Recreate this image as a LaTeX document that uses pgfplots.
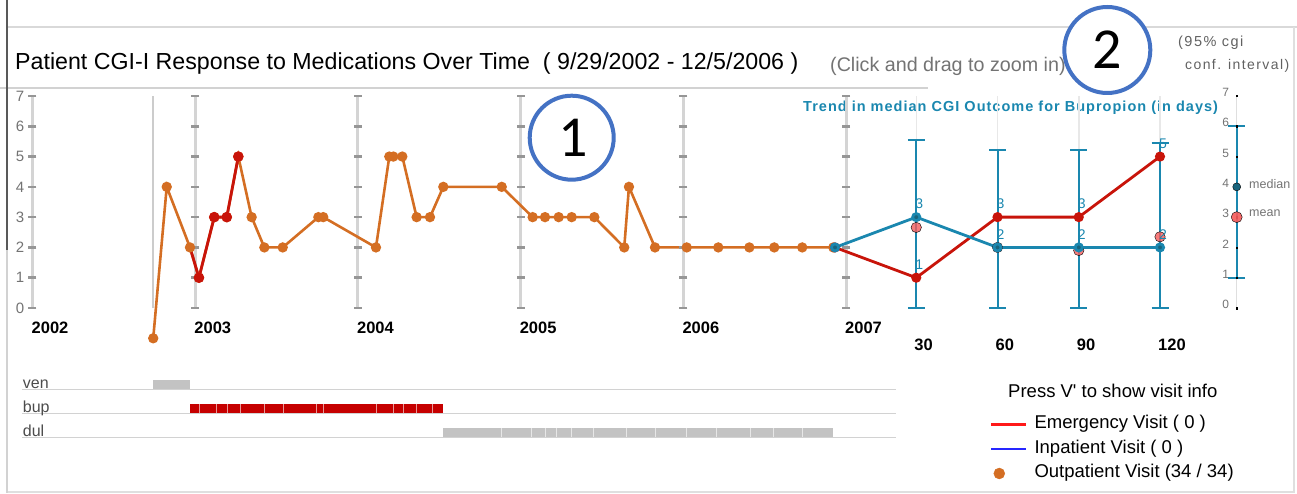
\documentclass[border=0pt]{standalone}
\usepackage{pgfplots}
\pgfplotsset{compat=1.18}
\usepackage{pgfplotstable}
\usepackage{fontspec}
\setmainfont{Liberation Sans}
\newfontfamily\calibri{Carlito}
\newfontfamily\spacedfont[LetterSpace=10]{Liberation Sans}
\newfontfamily\trendfont[LetterSpace=7]{Liberation Sans}
\newcommand\fs[1]{\fontsize{#1}{#1}\selectfont}
\definecolor{cgiorange}{RGB}{212,110,35}
\definecolor{cgired}{RGB}{200,20,10}
\definecolor{cgiteal}{RGB}{26,135,175}
\definecolor{cgidteal}{RGB}{25,100,125}
\definecolor{cgipink}{RGB}{245,90,90}
\definecolor{gridgray}{RGB}{212,212,212}
\definecolor{dashgray}{RGB}{150,150,150}
\definecolor{circblue}{RGB}{68,114,196}
\definecolor{bupred}{RGB}{198,0,0}
\definecolor{bargray}{RGB}{195,195,195}
\definecolor{txtgray}{RGB}{115,115,115}

\pgfplotstableread{
x y
2002.742 -1
2002.825 4
2002.968 2
2003.023 1
2003.117 3
2003.194 3
2003.265 5
2003.347 3
2003.425 2
2003.538 2
2003.757 3
2003.787 3
2004.111 2
2004.193 5
2004.218 5
2004.273 5
2004.361 3
2004.443 3
2004.525 4
2004.884 4
2005.074 3
2005.150 3
2005.234 3
2005.314 3
2005.453 3
2005.637 2
2005.666 4
2005.826 2
2006.021 2
2006.215 2
2006.406 2
2006.559 2
2006.731 2
2006.922 2
}\visits

\begin{document}
\begin{tikzpicture}
\useasboundingbox (0pt,0pt) rectangle (1297pt,493pt);

% frame
\draw[gray!30, line width=1.5pt] (7pt,466pt) -- (1297pt,466pt);
\draw[gray!25, line width=1.5pt] (1294pt,466pt) -- (1294pt,0pt);
\draw[gray!25, line width=1.5pt] (7pt,1pt) -- (1294pt,1pt);
\draw[gray!35, line width=1.5pt] (0pt,405pt) -- (928pt,405pt);
\draw[black!65, line width=1.5pt] (7pt,493pt) -- (7pt,243pt);
\draw[gray!35, line width=2pt] (7pt,243pt) -- (7pt,0pt);

% titles
\node[anchor=base west, inner sep=0pt, font=\fs{23.2}] at (15pt,423pt)
  {Patient CGI-I Response to Medications Over Time\ \ ( 9/29/2002 - 12/5/2006 )};
\node[anchor=base west, inner sep=0pt, font=\fs{19.7}, text=txtgray] at (830pt,421.3pt)
  {(Click and drag to zoom in)};
\node[anchor=base west, inner sep=0pt, font=\spacedfont\fs{14.5}, text=black!62] at (1178pt,446.3pt) {(95\% cgi};
\node[anchor=base west, inner sep=0pt, font=\spacedfont\fs{14}, text=black!62] at (1185pt,423pt) {conf. interval)};
\node[anchor=base west, inner sep=0pt, font=\trendfont\bfseries\fs{14.5}, text=cgiteal] at (803pt,381.3pt)
  {Trend in median CGI Outcome for Bupropion (in days)};

% ---------- main timeline axis
\begin{axis}[
  at={(32.5pt,185pt)}, anchor=south west, scale only axis,
  width=813.5pt, height=212pt,
  xmin=2002, xmax=2007, ymin=0, ymax=7, clip=false,
  axis line style={draw=none}, major tick length=0pt,
  xtick={2002,2003,2004,2005,2006,2007},
  xticklabels={2002,2003,2004,2005,2006,2007},
  xticklabel style={anchor=base west, inner sep=0pt, yshift=-25.3pt, xshift=-1pt, font=\fs{16.5}\bfseries},
  ytick={0,1,2,3,4,5,6,7},
  yticklabels={0,1,2,3,4,5,6,7},
  yticklabel style={anchor=east, inner sep=0pt, xshift=-8pt, font=\fs{15}, text=txtgray},
]
\pgfplotsset{gridyear/.style={gridgray, line width=3pt, mark=-, mark size=4pt, mark options={dashgray, line width=2.5pt}}}
\addplot[gridyear] coordinates {(2002,0)(2002,1)(2002,2)(2002,3)(2002,4)(2002,5)(2002,6)(2002,7)};
\addplot[gridyear] coordinates {(2003,0)(2003,1)(2003,2)(2003,3)(2003,4)(2003,5)(2003,6)(2003,7)};
\addplot[gridyear] coordinates {(2004,0)(2004,1)(2004,2)(2004,3)(2004,4)(2004,5)(2004,6)(2004,7)};
\addplot[gridyear] coordinates {(2005,0)(2005,1)(2005,2)(2005,3)(2005,4)(2005,5)(2005,6)(2005,7)};
\addplot[gridyear] coordinates {(2006,0)(2006,1)(2006,2)(2006,3)(2006,4)(2006,5)(2006,6)(2006,7)};
\addplot[gridyear] coordinates {(2007,0)(2007,1)(2007,2)(2007,3)(2007,4)(2007,5)(2007,6)(2007,7)};
% start marker
\addplot[gray!40, line width=2pt] coordinates {(2002.742,0)(2002.742,7)};
% visits
\addplot[cgiorange, line width=2.6pt, mark=*, mark size=3.8pt, mark options={fill=cgiorange, draw=none}] table {\visits};
\addplot[cgired, line width=2.8pt, mark=*, mark size=3.8pt, mark indices={2,3,4,5}, mark options={fill=cgired, draw=none}]
  coordinates {(2002.968,2)(2003.023,1)(2003.117,3)(2003.194,3)(2003.265,5)};
\end{axis}

% ---------- trend axis
\begin{axis}[
  at={(835pt,185pt)}, anchor=south west, scale only axis,
  width=325pt, height=212pt,
  xmin=0, xmax=120, ymin=0, ymax=7, clip=false,
  axis line style={draw=none}, major tick length=0pt,
  ytick=\empty,
  xtick={30,60,90,120}, xticklabels={30,60,90,120},
  xticklabel style={anchor=base west, inner sep=0pt, yshift=-42pt, xshift=-2pt, font=\fs{16.5}\bfseries},
]
\addplot[gray!18, line width=1.5pt] coordinates {(30,0)(30,7)};
\addplot[gray!18, line width=1.5pt] coordinates {(60,0)(60,7)};
\addplot[gray!18, line width=1.5pt] coordinates {(90,0)(90,7)};
\addplot[gray!18, line width=1.5pt] coordinates {(120,0)(120,7)};
\addplot[draw=none, mark=none, error bars/.cd, y dir=both, y explicit,
  error bar style={draw=cgiteal, line width=2pt},
  error mark options={draw=cgiteal, line width=2pt, mark size=8.5pt, rotate=90}]
  coordinates {(30,0) += (0,5.55) -= (0,0)
               (60,0) += (0,5.22) -= (0,0)
               (90,0) += (0,5.22) -= (0,0)
               (120,0) += (0,5.46) -= (0,0)};
\addplot[only marks, mark=*, mark size=5.2pt, mark options={fill=cgipink, draw=none, fill opacity=0.8}]
  coordinates {(30,2.66)(60,2.0)(90,1.9)(120,2.35)};
\addplot[cgired, line width=2.8pt, mark=*, mark size=3.6pt, mark options={fill=cgired, draw=none}]
  coordinates {(0,2)(30,1)(60,3)(90,3)(120,5)};
\addplot[cgiteal, line width=2.8pt, mark=*, mark size=3.6pt, mark options={fill=cgidteal, draw=none}]
  coordinates {(0,2)(30,3)(60,2)(90,2)(120,2)};
\addplot[draw=none, mark=none, nodes near coords, point meta=explicit symbolic,
  every node near coord/.append style={anchor=south west, inner sep=0pt, xshift=-1pt, yshift=8pt, text=cgiteal, font=\fs{14}}]
  coordinates {(30,3)[3] (60,2)[2] (90,2)[2] (120,2)[2] (30,1)[1] (60,3)[3] (90,3)[3] (120,5)[5]};
\end{axis}

% ---------- right legend axis
\begin{axis}[
  at={(1236.7pt,185pt)}, anchor=south west, scale only axis,
  width=20pt, height=212pt,
  xmin=0, xmax=1, ymin=0, ymax=7, clip=false,
  axis line style={draw=none}, major tick length=0pt,
  xtick=\empty,
  ytick={0,1,2,3,4,5,6,7}, yticklabels={0,1,2,3,4,5,6,7},
  yticklabel style={anchor=east, inner sep=0pt, xshift=-7.5pt, yshift=3.5pt, font=\fs{12}, text=txtgray},
]
\addplot[gray!25, line width=1.5pt] coordinates {(0,0)(0,7)};
\addplot[only marks, mark=square*, mark size=0.7pt, mark options={fill=gray!55, draw=none}]
  coordinates {(0,0)(0,1)(0,2)(0,3)(0,4)(0,5)(0,6)(0,7)};
\addplot[draw=none, mark=none, error bars/.cd, y dir=both, y explicit,
  error bar style={draw=cgiteal, line width=2.2pt},
  error mark options={draw=cgiteal, line width=2.2pt, mark size=8.5pt, rotate=90}]
  coordinates {(0,3.5) +- (0,2.5)};
\addplot[only marks, mark=*, mark size=5.5pt, mark options={fill=cgipink, draw=none, fill opacity=0.9}] coordinates {(0,3)};
\addplot[only marks, mark=*, mark size=4pt, mark options={fill=cgidteal, draw=none}] coordinates {(0,4)};
\node[anchor=west, inner sep=0pt, font=\fs{12.5}, text=txtgray] at (axis cs:0,4) [xshift=12.3pt, yshift=3pt] {median};
\node[anchor=west, inner sep=0pt, font=\fs{12.5}, text=txtgray] at (axis cs:0,3) [xshift=12.3pt, yshift=4pt] {mean};
\end{axis}

% ---------- medication timeline
\begin{axis}[
  at={(32.5pt,55.5pt)}, anchor=south west, scale only axis,
  width=813.5pt, height=48pt,
  xmin=2002, xmax=2007, ymin=0, ymax=2, hide axis, clip=false,
]
\addplot[gray!35, line width=1.5pt] coordinates {(2001.935,2)(2007.307,2)};
\addplot[gray!35, line width=1.5pt] coordinates {(2001.935,1)(2007.307,1)};
\addplot[gray!35, line width=1.5pt] coordinates {(2001.935,0)(2007.307,0)};
\addplot[fill=bargray, draw=none] coordinates {(2002.742,2.03)(2002.968,2.03)(2002.968,2.38)(2002.742,2.38)} -- cycle;
\addplot[fill=bupred, draw=none] coordinates {(2002.968,1.03)(2004.525,1.03)(2004.525,1.38)(2002.968,1.38)} -- cycle;
\addplot[fill=bargray, draw=none] coordinates {(2004.525,0.03)(2006.922,0.03)(2006.922,0.38)(2004.525,0.38)} -- cycle;
\addplot[draw=none, mark=none, error bars/.cd, y dir=plus, y explicit, error mark=none,
  error bar style={draw=white, line width=0.5pt, draw opacity=0.6}]
  coordinates {(2003.025,1.03) +- (0,0.35) (2003.128,1.03) +- (0,0.35) (2003.197,1.03) +- (0,0.35)
               (2003.275,1.03) +- (0,0.35) (2003.423,1.03) +- (0,0.35) (2003.541,1.03) +- (0,0.35)
               (2003.747,1.03) +- (0,0.35) (2003.787,1.03) +- (0,0.35) (2004.111,1.03) +- (0,0.35)
               (2004.218,1.03) +- (0,0.35) (2004.279,1.03) +- (0,0.35) (2004.361,1.03) +- (0,0.35)
               (2004.454,1.03) +- (0,0.35)
               (2004.884,0.03) +- (0,0.35) (2005.068,0.03) +- (0,0.35) (2005.150,0.03) +- (0,0.35)
               (2005.222,0.03) +- (0,0.35) (2005.314,0.03) +- (0,0.35) (2005.447,0.03) +- (0,0.35)
               (2005.652,0.03) +- (0,0.35) (2005.826,0.03) +- (0,0.35) (2006.021,0.03) +- (0,0.35)
               (2006.205,0.03) +- (0,0.35) (2006.410,0.03) +- (0,0.35) (2006.553,0.03) +- (0,0.35)
               (2006.728,0.03) +- (0,0.35)};
\node[anchor=base west, inner sep=0pt, font=\fs{16}, text=black!70] at (axis cs:2001.94,2) [yshift=1.5pt] {ven};
\node[anchor=base west, inner sep=0pt, font=\fs{16}, text=black!70] at (axis cs:2001.94,1) [yshift=1.5pt] {bup};
\node[anchor=base west, inner sep=0pt, font=\fs{16}, text=black!70] at (axis cs:2001.94,0) [yshift=1.5pt] {dul};
\end{axis}

% ---------- visit legend
\begin{axis}[
  at={(0pt,0pt)}, anchor=south west, scale only axis,
  width=1297pt, height=493pt,
  xmin=0, xmax=1297, ymin=0, ymax=493, hide axis,
  legend style={at={(0.7633,0.1562)}, anchor=north west, draw=none, fill=none,
    inner sep=0pt, outer sep=0pt, row sep=7.5pt, column sep=7pt,
    font=\fs{18.5}, cells={anchor=west},
    nodes={inner sep=0pt, text height=13pt, text depth=4pt}},
  legend image code/.code={\draw[#1] (0pt,0pt) -- (35pt,0pt);},
]
\addlegendimage{red!90!white, line width=2.5pt}
\addlegendentry{Emergency Visit ( 0 )}
\addlegendimage{blue!85!white, line width=2.5pt}
\addlegendentry{Inpatient Visit ( 0 )}
\addlegendimage{legend image code/.code={\fill[cgiorange] (8pt,0pt) circle (5.5pt);}}
\addlegendentry{Outpatient Visit (34 / 34)}
\end{axis}

\node[anchor=base west, inner sep=0pt, font=\fs{18.5}] at (1008pt,95.7pt) {Press V{\addfontfeature{Ligatures=TeXOff}'} to show visit info};

% annotation circles
\draw[circblue, line width=4pt, fill=white] (571.7pt,355.3pt) circle (42pt);
\node[font=\calibri\fs{58}, inner sep=0pt] at (573pt,355.5pt) {1};
\draw[circblue, line width=4pt, fill=white] (1107.3pt,443pt) circle (43pt);
\node[font=\calibri\fs{58}, inner sep=0pt] at (1107.3pt,443pt) {2};
\end{tikzpicture}
\end{document}
